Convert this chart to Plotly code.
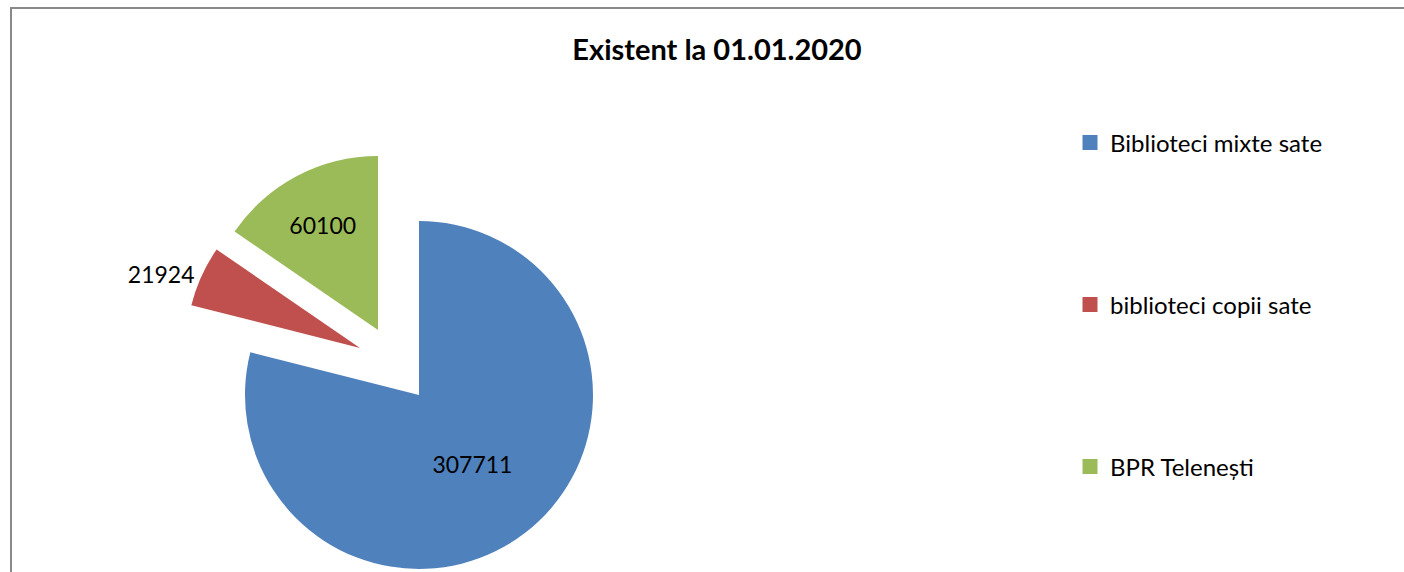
import plotly.graph_objects as go

# ---- data ----
categories = ["Biblioteci mixte sate", "biblioteci copii sate", "BPR Telenești"]
values = [307711, 21924, 60100]
colors = ["#4F81BD", "#C0504D", "#9BBB59"]
title_text = "Existent la 01.01.2020"

# ---- layout constants (pixels, page coordinates) ----
W, H = 1404, 572
OFF = 0                      # page body margin removed below
R = 174
# centre of each (exploded) slice on the page
centers = [(419, 395), (360, 348), (378, 330)]
label_pos = ["inside", "outside", "inside"]
legend_y = [143, 305, 467]
legend_x = 1070
FONT = "Lato"


def px_x(x):
    return (x - OFF) / W


def px_y(y):
    return 1 - (y - OFF) / H


fig = go.Figure()
n = len(values)
for i, (cx, cy) in enumerate(centers):
    slice_colors = [colors[j] if j == i else "rgba(0,0,0,0)" for j in range(n)]
    tp = [label_pos[j] if j == i else "none" for j in range(n)]
    fig.add_trace(go.Pie(
        labels=categories, values=values, sort=False,
        direction="clockwise", rotation=0,
        marker=dict(colors=slice_colors, line=dict(width=0)),
        texttemplate="%{value:.0f}", textposition=tp,
        insidetextorientation="horizontal",
        textfont=dict(family=FONT, size=23, color="#000000"),
        domain=dict(x=[px_x(cx - R), px_x(cx + R)],
                    y=[max(0, px_y(cy + R)), px_y(cy - R)]),
        showlegend=False, hoverinfo="label+value",
    ))

legend_layout = {}
for i in range(n):
    key = "legend" if i == 0 else f"legend{i + 1}"
    fig.add_trace(go.Scatter(
        x=[None], y=[None], mode="markers", name=categories[i],
        marker=dict(symbol="square", size=15, color=colors[i]),
        legend=key, hoverinfo="skip",
    ))
    legend_layout[key] = dict(
        x=px_x(legend_x), xanchor="left", y=px_y(legend_y[i]), yanchor="middle",
        font=dict(family=FONT, size=24, color="#000000"),
        bgcolor="rgba(0,0,0,0)", borderwidth=0,
    )

border = dict(color="#898989", width=2)
fig.update_layout(
    width=W, height=H,
    margin=dict(l=0, r=0, t=0, b=0),
    paper_bgcolor="white", plot_bgcolor="white",
    font=dict(family=FONT, color="#000000"),
    title=dict(text="<b>" + title_text + "</b>", x=px_x(717), xanchor="center",
               y=px_y(50), yanchor="middle", yref="paper",
               font=dict(family=FONT, size=29, color="#000000")),
    xaxis=dict(visible=False), yaxis=dict(visible=False),
    shapes=[
        dict(type="line", xref="paper", yref="paper",
             x0=px_x(11), x1=px_x(11), y0=-0.2, y1=px_y(8), line=border),
        dict(type="line", xref="paper", yref="paper",
             x0=px_x(10), x1=1.2, y0=px_y(8), y1=px_y(8), line=border),
    ],
    **legend_layout,
)

fig.write_html(
    "out.html",
    config={"displayModeBar": False},
    post_script="document.body.style.margin='0';"
                "document.documentElement.style.overflow='hidden';"
                "document.body.style.overflow='hidden';",
)
